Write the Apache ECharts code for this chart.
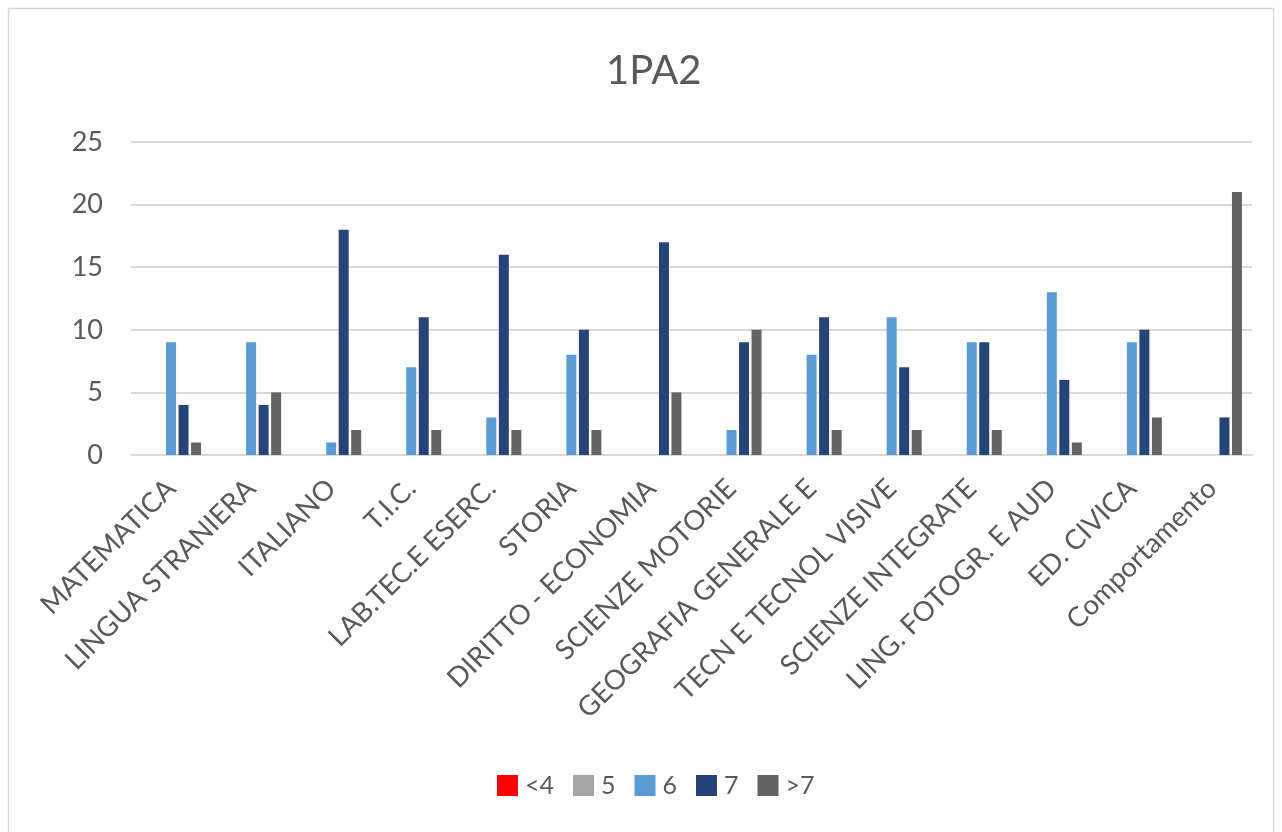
<!DOCTYPE html>
<html>
<head>
<meta charset="utf-8">
<script src="https://cdn.jsdelivr.net/npm/echarts@6/dist/echarts.min.js"></script>
<style>
html,body{margin:0;padding:0;background:#fff;}
#chart{width:1282px;height:832px;}
</style>
</head>
<body>
<div id="chart"></div>
<script>
const categories = ["MATEMATICA","LINGUA STRANIERA","ITALIANO","T.I.C.","LAB.TEC.E ESERC.","STORIA","DIRITTO - ECONOMIA","SCIENZE MOTORIE","GEOGRAFIA GENERALE E","TECN E TECNOL VISIVE","SCIENZE INTEGRATE","LING. FOTOGR. E AUD","ED. CIVICA","Comportamento"];
const seriesNames = ["<4","5","6","7",">7"];
const valsLt4 = [0,0,0,0,0,0,0,0,0,0,0,0,0,0];
const vals5   = [0,0,0,0,0,0,0,0,0,0,0,0,0,0];
const vals6   = [9,9,1,7,3,8,0,2,8,11,9,13,9,0];
const vals7   = [4,4,18,11,16,10,17,9,11,7,9,6,10,3];
const valsGt7 = [1,5,2,2,2,2,5,10,2,2,2,1,3,21];
const yTicks = [0,5,10,15,20,25];
const colors = ["#FF0000","#A5A5A5","#5B9BD5","#264478","#636363"];

const allVals = [valsLt4, vals5, vals6, vals7, valsGt7];
const textColor = "#595959";
const font = "Lato, 'Open Sans', sans-serif";

const chart = echarts.init(document.getElementById('chart'), null, {renderer:'canvas'});
chart.setOption({
  animation: false,
  backgroundColor: '#ffffff',
  color: colors,
  graphic: [{
    type: 'rect',
    shape: {x: 8.5, y: 8.5, width: 1265, height: 840},
    style: {fill: 'none', stroke: '#d9d9d9', lineWidth: 1.5},
    silent: true
  }],
  title: {
    text: '1PA2',
    left: 601,
    top: 46,
    textStyle: {color: textColor, fontSize: 40, fontWeight: 'normal', fontFamily: font}
  },
  legend: {
    top: 768,
    left: 492,
    itemWidth: 21,
    itemHeight: 21,
    itemGap: 19,
    icon: 'rect',
    textStyle: {color: textColor, fontSize: 25, fontFamily: font, padding: [0,0,0,2]},
    data: seriesNames
  },
  grid: {left: 131, right: 30, top: 142, bottom: 377, containLabel: false},
  xAxis: {
    type: 'category',
    data: categories,
    axisLine: {show: true, lineStyle: {color: '#d9d9d9', width: 2}},
    axisTick: {show: false},
    axisLabel: {
      interval: 0,
      rotate: 45,
      margin: 29,
      color: textColor,
      fontSize: 27.5,
      fontFamily: font
    }
  },
  yAxis: {
    type: 'value',
    min: yTicks[0],
    max: yTicks[yTicks.length-1],
    interval: 5,
    axisLine: {show: false},
    axisTick: {show: false},
    splitLine: {lineStyle: {color: '#d9d9d9', width: 2}},
    axisLabel: {color: textColor, fontSize: 27, fontFamily: font, margin: 28}
  },
  series: seriesNames.map((name, i) => ({
    name: name,
    type: 'bar',
    data: allVals[i],
    barWidth: 10,
    barGap: '25%',
    itemStyle: {color: colors[i]}
  }))
});
</script>
</body>
</html>
